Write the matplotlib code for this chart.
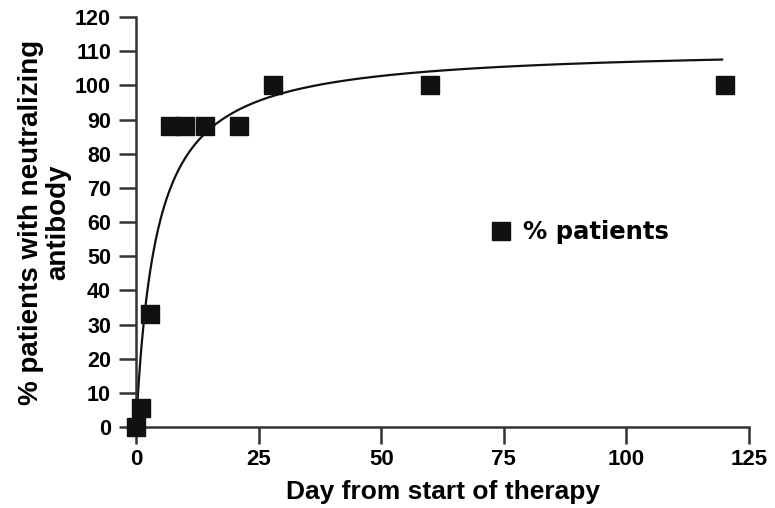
import numpy as np
import matplotlib
matplotlib.use("Agg")
import matplotlib.pyplot as plt

plt.rcParams["font.family"] = ["Liberation Sans", "DejaVu Sans"]
plt.rcParams["font.weight"] = "bold"

# observed points
days = [0, 1, 2.9, 7, 10, 14, 21, 28, 60, 120]
pct_patients = [0, 5.5, 33, 88, 88, 88, 88, 100, 100, 100]

# fitted saturation curve (Vmax * t / (K + t)), parameters
VMAX = 111.3
K_HALF = 4.15
fit_start, fit_end = 0.0, 119.5

x_ticks = [0, 25, 50, 75, 100, 125]
y_ticks = list(range(0, 121, 10))

fig = plt.figure(figsize=(7.75, 5.08), dpi=100)
ax = fig.add_axes([0.1755, 0.1594, 0.791, 0.807])

t = np.linspace(fit_start, fit_end, 400)
ax.plot(t, VMAX * t / (K_HALF + t), color="#111111", lw=1.6, zorder=2)
ax.plot(days, pct_patients, ls="none", marker="s", ms=12.5, color="#111111",
        mec="#111111", clip_on=False, zorder=3, label="% patients")

ax.set_xlim(0, 125)
ax.set_ylim(0, 120)
ax.set_xticks(x_ticks)
ax.set_yticks(y_ticks)
ax.tick_params(direction="out", length=12, width=1.8, color="#333333",
               labelsize=15.5)
ax.tick_params(axis="y", pad=6)
ax.tick_params(axis="x", pad=4, labelsize=16)
for s in ["top", "right"]:
    ax.spines[s].set_visible(False)
for s in ["left", "bottom"]:
    ax.spines[s].set_linewidth(1.8)
    ax.spines[s].set_color("#333333")

ax.set_xlabel("Day from start of therapy", fontsize=19, fontweight="bold", labelpad=7)
ax.set_ylabel("% patients with neutralizing\nantibody", fontsize=20, fontweight="bold",
              labelpad=3, linespacing=1.05)

leg = ax.legend(loc="center left", bbox_to_anchor=(0.54, 0.475), frameon=False,
                handletextpad=0.4, markerscale=1.05, handlelength=1.0,
                prop={"family": "DejaVu Sans", "weight": "bold", "size": 17.5})

fig.savefig("out.png", dpi=100)
